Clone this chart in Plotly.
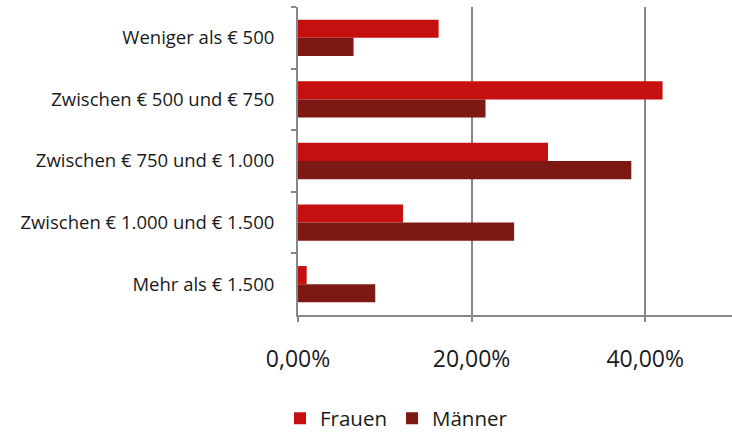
import plotly.graph_objects as go

categories = ["Weniger als € 500", "Zwischen € 500 und € 750", "Zwischen € 750 und € 1.000",
              "Zwischen € 1.000 und € 1.500", "Mehr als € 1.500"]
frauen = [0.162, 0.420, 0.288, 0.121, 0.010]
maenner = [0.064, 0.216, 0.384, 0.249, 0.089]

FONT = "'Open Sans', Lato, sans-serif"
GRAY = "#878787"

fig = go.Figure()
fig.add_trace(go.Bar(y=categories, x=frauen, name="Frauen", orientation="h",
                     marker=dict(color="#C61010", line=dict(width=0))))
fig.add_trace(go.Bar(y=categories, x=maenner, name="Männer", orientation="h",
                     marker=dict(color="#7E1812", line=dict(width=0))))

fig.update_layout(
    width=732, height=435,
    margin=dict(l=298, r=0, t=7, b=120, autoexpand=False),
    paper_bgcolor="white", plot_bgcolor="white",
    barmode="group", bargap=0.41, bargroupgap=0,
    separators=",.",
    font=dict(family=FONT, color="#1a1a1a"),
    showlegend=True,
    legend=dict(orientation="h", x=0.227, xanchor="center", y=-0.336, yanchor="middle",
                font=dict(size=20.5, family=FONT), itemwidth=30, tracegroupgap=0),
    xaxis=dict(range=[0, 0.5], dtick=0.2, tick0=0, tickformat=".2%",
               showgrid=True, gridcolor=GRAY, gridwidth=1.5,
               showline=True, linecolor=GRAY, linewidth=2,
               ticks="outside", ticklen=5, tickcolor=GRAY, tickwidth=1.5,
               tickfont=dict(size=23, family=FONT), ticklabelstandoff=17,
               zeroline=False, automargin=False),
    yaxis=dict(autorange="reversed", showline=True, linecolor=GRAY, linewidth=2,
               ticks="outside", ticklen=5, tickcolor=GRAY, tickwidth=1.5,
               tickson="boundaries", showgrid=False, automargin=False,
               tickfont=dict(size=18.5, family=FONT), ticklabelstandoff=18),
)

fig.write_html("out.html", config={"displayModeBar": False},
               post_script="document.body.style.margin='0';")
